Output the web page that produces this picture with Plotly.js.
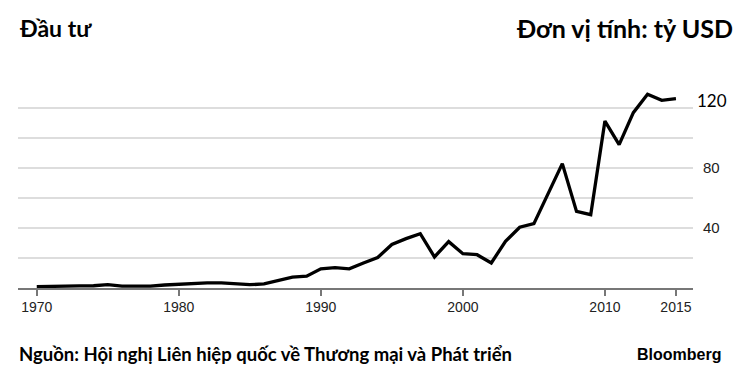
<!DOCTYPE html>
<html>
<head>
<meta charset="utf-8">
<script src="https://cdn.plot.ly/plotly-3.0.1.min.js"></script>
<style>
  html, body { margin: 0; padding: 0; background: #ffffff; }
  #chart { width: 750px; height: 374px; }
</style>
</head>
<body>
<div id="chart"></div>
<script>
const years = [1970, 1971, 1972, 1973, 1974, 1975, 1976, 1977, 1978, 1979,
               1980, 1981, 1982, 1983, 1984, 1985, 1986, 1987, 1988, 1989,
               1990, 1991, 1992, 1993, 1994, 1995, 1996, 1997, 1998, 1999,
               2000, 2001, 2002, 2003, 2004, 2005, 2006, 2007, 2008, 2009,
               2010, 2011, 2012, 2013, 2014, 2015];
const investment = [0.9, 0.9, 1.0, 1.4, 1.5, 2.2, 1.3, 1.2, 1.3, 2.0,
                    2.6, 3.3, 3.4, 3.4, 2.8, 2.2, 2.7, 4.8, 7.3, 7.9,
                    12.8, 13.6, 12.8, 16.7, 20.3, 29.0, 32.9, 36.2, 20.7, 30.9,
                    22.9, 22.2, 16.7, 31.1, 40.5, 42.9, 62.9, 82.9, 51.1, 48.9,
                    111.3, 95.6, 116.9, 129.1, 125.1, 126.2];
const xTickVals = [1970, 1980, 1990, 2000, 2010, 2015];
const xTickText = ["1970", "1980", "1990", "2000", "2010", "2015"];
const yTickVals = [20, 40, 60, 80, 100, 120];
const yTickText = ["", "40", "", "80", "", ""];
const titleLeft = "Đầu tư";
const titleRight = "Đơn vị tính: tỷ USD";
const sourceText = "Nguồn: Hội nghị Liên hiệp quốc về Thương mại và Phát triển";
const brandText = "Bloomberg";
const topLabel = "120";

const trace = {
  x: years,
  y: investment,
  type: "scatter",
  mode: "lines",
  line: { color: "#000000", width: 3.3 },
  hoverinfo: "x+y"
};

const layout = {
  width: 750,
  height: 374,
  margin: { l: 18, r: 57, t: 87, b: 86 },
  paper_bgcolor: "#ffffff",
  plot_bgcolor: "#ffffff",
  showlegend: false,
  xaxis: {
    range: [1968.68, 2016.2],
    tickmode: "array",
    tickvals: xTickVals,
    ticktext: xTickText,
    ticks: "outside",
    ticklen: 6,
    tickwidth: 1.5,
    tickcolor: "#777777",
    showgrid: false,
    zeroline: false,
    showline: true,
    linecolor: "#777777",
    linewidth: 1.5,
    tickfont: { family: "Liberation Sans, Arial, sans-serif", size: 14, color: "#222222" },
    fixedrange: true
  },
  yaxis: {
    range: [0, 134],
    side: "right",
    tickmode: "array",
    tickvals: yTickVals,
    ticktext: yTickText,
    ticks: "",
    showgrid: true,
    gridcolor: "#dddddd",
    gridwidth: 1.5,
    zeroline: false,
    showline: false,
    ticklabelstandoff: 9,
    tickfont: { family: "Liberation Sans, Arial, sans-serif", size: 15, color: "#222222" },
    fixedrange: true
  },
  annotations: [
    {
      text: titleLeft, xref: "paper", yref: "paper",
      x: -0.001, y: 1.2936, xanchor: "left", yanchor: "middle", showarrow: false,
      font: { family: "Lato, sans-serif", size: 23, color: "#000000", weight: "bold" }
    },
    {
      text: titleRight, xref: "paper", yref: "paper",
      x: 1.0622, y: 1.2936, xanchor: "right", yanchor: "middle", showarrow: false,
      font: { family: "Lato, sans-serif", size: 25, color: "#000000", weight: "bold" }
    },
    {
      text: sourceText, xref: "paper", yref: "paper",
      x: -0.0015, y: -0.33, xanchor: "left", yanchor: "middle", showarrow: false,
      font: { family: "Lato, sans-serif", size: 18.5, color: "#000000", weight: "bold" }
    },
    {
      text: brandText, xref: "paper", yref: "paper",
      x: 1.0444, y: -0.33, xanchor: "right", yanchor: "middle", showarrow: false,
      font: { family: "Liberation Sans, Arial, sans-serif", size: 16, color: "#000000", weight: "bold" }
    },
    {
      text: topLabel, xref: "paper", yref: "y",
      x: 1, y: 120, xanchor: "left", yanchor: "middle", xshift: 2, yshift: 8, showarrow: false,
      font: { family: "Lato, sans-serif", size: 17, color: "#000000" }
    }
  ]
};

Plotly.newPlot("chart", [trace], layout, { displayModeBar: false, staticPlot: true });
</script>
</body>
</html>
